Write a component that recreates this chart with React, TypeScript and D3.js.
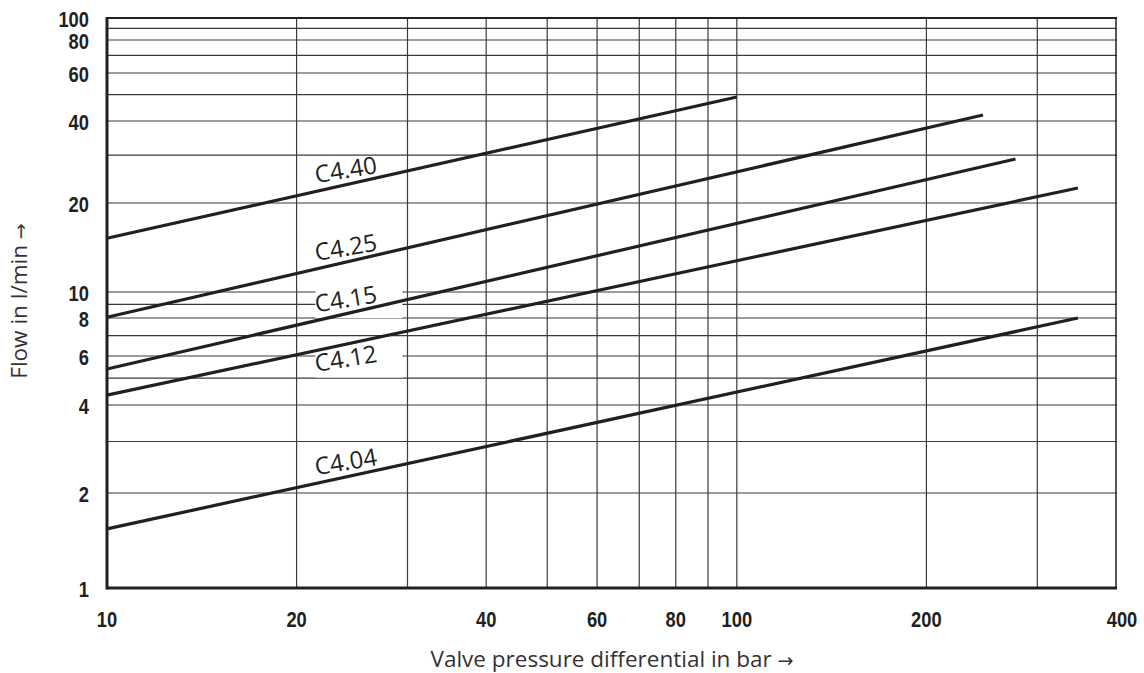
import { useMemo } from 'react';
import { line, scaleLog } from 'd3';

// valve types and their straight (log-log) characteristic
const seriesNames = ['C4.40', 'C4.25', 'C4.15', 'C4.12', 'C4.04'];
const pressureStart = [10, 10, 10, 10, 10];
const pressureEnd = [100, 246, 277, 348, 348];
const flowStart = [15.2, 8.05, 5.39, 4.34, 1.54];
const flowEnd = [49, 42.1, 29, 22.7, 8];
const labelSide = ['above', 'above', 'above', 'below', 'above'];
const labelPressure = 21.5;

const xTicks = [10, 20, 40, 60, 80, 100, 200, 400];
const xGrid = [20, 30, 40, 50, 60, 70, 80, 90, 100, 200, 300];
const yTicks = [1, 2, 4, 6, 8, 10, 20, 40, 60, 80, 100];
const yGrid = [2, 3, 4, 5, 6, 7, 8, 9, 10, 20, 30, 40, 50, 60, 70, 80, 90];

const W = 1144;
const H = 673;
const left = 107;
const right = 1116;
const top = 18;
const bottom = 588;
const ink = '#231f20';
const grid = '#3a3a3a';
const tickFont = "'Liberation Sans', Arial, sans-serif";
const textFont = "'Open Sans', 'Noto Sans', sans-serif";
const labelAngle = -9.5;

export default function App() {
  const x = useMemo(() => scaleLog().domain([10, 400]).range([left, right]), []);
  // the printed y grid is not quite even, so the scale is calibrated on the labelled ticks
  const y = useMemo(
    () =>
      scaleLog()
        .domain(yTicks)
        .range([bottom, 493, 405, 356, 318, 292, 203, 121, 73, 40, top]),
    [],
  );

  const path = line<[number, number]>()
    .x((d) => x(d[0]))
    .y((d) => y(d[1]));

  const labels = seriesNames.map((name, i) => {
    const x1 = x(pressureStart[i]);
    const y1 = y(flowStart[i]);
    const x2 = x(pressureEnd[i]);
    const y2 = y(flowEnd[i]);
    const lx = x(labelPressure);
    const ly = y1 + ((y2 - y1) * (lx - x1)) / (x2 - x1);
    const by = labelSide[i] === 'below' ? ly + 21.5 : ly - 8;
    const rad = (Math.abs(labelAngle) * Math.PI) / 180;
    const L = 66;
    const Hc = 16;
    const ymin = by - L * Math.sin(rad) - Hc * Math.cos(rad);
    return { name, lx, by, ymin };
  });

  return (
    <svg width={W} height={H} style={{ position: 'absolute', left: 0, top: 0, background: '#fff' }}>
      <g stroke={grid} strokeWidth={1.2}>
        {yGrid.map((v) => (
          <line key={'h' + v} x1={left} x2={right + 1} y1={y(v)} y2={y(v)} />
        ))}
        {xGrid.map((v) => (
          <line key={'v' + v} x1={x(v)} x2={x(v)} y1={top} y2={bottom} />
        ))}
      </g>
      {/* gaps in the grid behind the curve labels */}
      {labels.map((l) => (
        <rect key={'gap' + l.name} x={l.lx - 1} y={l.ymin + 3} width={87} height={l.by + 5.5 - (l.ymin + 3)} fill="#fff" />
      ))}
      <g stroke={ink} fill="none">
        <line x1={left} x2={right + 1} y1={top} y2={top} strokeWidth={1.8} />
        <line x1={right} x2={right} y1={top} y2={bottom} strokeWidth={1.5} />
        <line x1={left} x2={right + 1} y1={bottom} y2={bottom} strokeWidth={3} />
        <line x1={left} x2={left} y1={top - 1} y2={bottom + 1.5} strokeWidth={3} />
      </g>
      <g stroke={ink} strokeWidth={3.2} fill="none">
        {seriesNames.map((name, i) => (
          <path
            key={name}
            d={path([
              [pressureStart[i], flowStart[i]],
              [pressureEnd[i], flowEnd[i]],
            ]) ?? ''}
          />
        ))}
      </g>
      <g fill={ink} fontFamily={textFont} fontSize={24}>
        {labels.map((l) => (
          <text key={'t' + l.name} x={l.lx} y={l.by} transform={`rotate(${labelAngle} ${l.lx} ${l.by})`}>
            {l.name}
          </text>
        ))}
      </g>
      <g fill={ink} fontFamily={tickFont} fontWeight="bold" fontSize={21.5}>
        {yTicks.map((v) => (
          <text
            key={'yt' + v}
            x={89}
            y={y(v) + 8.5}
            textAnchor="end"
            textLength={String(v).length * 10.2}
            lengthAdjust="spacingAndGlyphs"
          >
            {v}
          </text>
        ))}
        {xTicks.map((v) => (
          <text
            key={'xt' + v}
            x={x(v) + (v === 400 ? 6 : 0)}
            y={627}
            textAnchor="middle"
            textLength={String(v).length * 10.2}
            lengthAdjust="spacingAndGlyphs"
          >
            {v}
          </text>
        ))}
      </g>
      <g fill="#333" fontFamily={textFont} fontSize={22.5}>
        <text x={612} y={667} textAnchor="middle">
          Valve pressure differential in bar <tspan fontFamily="'DejaVu Sans'" fontSize={19}>→</tspan>
        </text>
        <text x={27} y={301} textAnchor="middle" transform="rotate(-90 27 301)">
          Flow in l/min <tspan fontFamily="'DejaVu Sans'" fontSize={19}>→</tspan>
        </text>
      </g>
    </svg>
  );
}
